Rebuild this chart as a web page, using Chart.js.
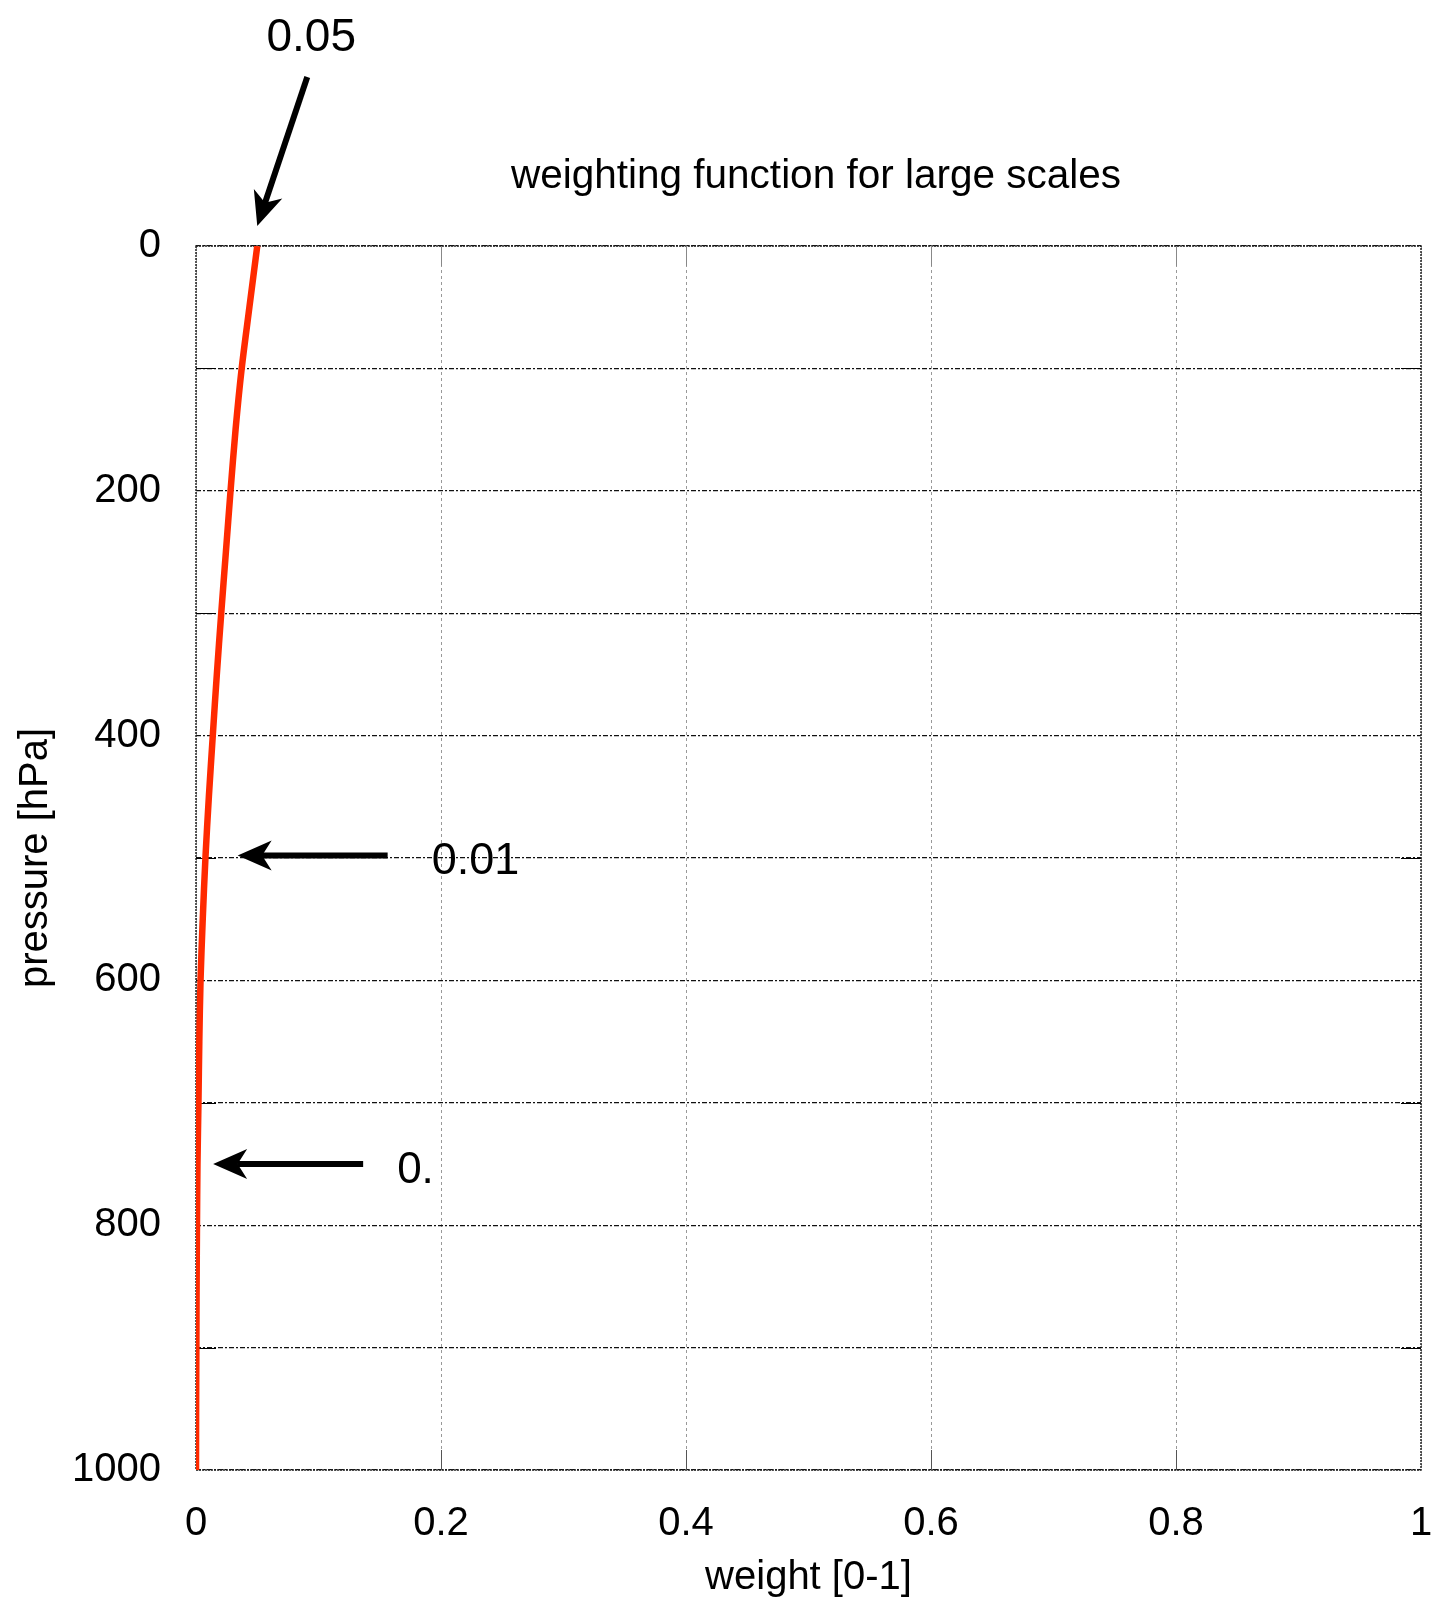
<!DOCTYPE html>
<html>
<head>
<meta charset="utf-8">
<script src="https://cdn.jsdelivr.net/npm/chart.js@4.4.1/dist/chart.umd.min.js"></script>
<style>
  html, body { margin: 0; padding: 0; background: #fff; }
  #wrap { width: 1433px; height: 1606px; }
</style>
</head>
<body>
<div id="wrap"><canvas id="c" width="1433" height="1606"></canvas></div>
<script>
// values
const pressure = [0, 50, 100, 150, 200, 250, 300, 350, 400, 450, 500, 550, 600, 650, 700, 750, 800, 850, 900, 950, 1000];
const weight = [0.0500, 0.0436, 0.0373, 0.0323, 0.0282, 0.0244, 0.0206, 0.0170, 0.0137, 0.0105, 0.0077, 0.0055, 0.0037, 0.0027, 0.0020, 0.0012, 0.0008, 0.0005, 0.0003, 0.0001, 0.0000];
const xTicks = [0, 0.2, 0.4, 0.6, 0.8, 1];
const yTicks = [0, 100, 200, 300, 400, 500, 600, 700, 800, 900, 1000];
const yLabelled = [0, 200, 400, 600, 800, 1000];
const chartTitle = 'weighting function for large scales';
const xTitle = 'weight [0-1]';
const yTitle = 'pressure [hPa]';

// arrows: what they point at, in data units
const noteText = ['0.05', '0.01', '0.'];
const noteX = [0.05, 0.034, 0.014];
const noteY = [0, 498, 750];

const FONT = '"Liberation Sans", Arial, Helvetica, sans-serif';

// pixel offsets of arrows and labels from the point they mark
const noteLook = [
  { tip: [0, -20], tail: [50, -169], label: [54, -195], align: 'center', size: 46 },
  { tip: [0, 0], tail: [150, 0], label: [194, 18], align: 'left', size: 45 },
  { tip: [0, 0], tail: [150, 0], label: [184, 19], align: 'left', size: 44 }
];

function arrow(ctx, x1, y1, x2, y2) {
  // tail (x1,y1) -> tip (x2,y2)
  const dx = x1 - x2, dy = y1 - y2;
  const len = Math.hypot(dx, dy);
  const ux = dx / len, uy = dy / len;
  const nx = -uy, ny = ux;
  const L = 34, W = 15;
  ctx.save();
  ctx.strokeStyle = '#000';
  ctx.fillStyle = '#000';
  ctx.lineWidth = 6;
  ctx.lineCap = 'butt';
  ctx.beginPath();
  ctx.moveTo(x1, y1);
  ctx.lineTo(x2 + ux * 24, y2 + uy * 24);
  ctx.stroke();
  ctx.beginPath();
  ctx.moveTo(x2, y2);
  ctx.lineTo(x2 + ux * L + nx * W, y2 + uy * L + ny * W);
  ctx.lineTo(x2 + ux * L * 0.72, y2 + uy * L * 0.72);
  ctx.lineTo(x2 + ux * L - nx * W, y2 + uy * L - ny * W);
  ctx.closePath();
  ctx.fill();
  ctx.restore();
}

const framePlugin = {
  id: 'frame',
  beforeDatasetsDraw(chart) {
    const { ctx, chartArea: a, scales: { x, y } } = chart;
    ctx.save();
    ctx.setLineDash([2, 1]);
    ctx.strokeStyle = '#222';
    ctx.lineWidth = 1.5;
    ctx.strokeRect(a.left, a.top, a.right - a.left, a.bottom - a.top);
    ctx.setLineDash([]);
    ctx.lineWidth = 1;
    ctx.strokeStyle = '#000';
    yTicks.forEach(v => {
      if (yLabelled.includes(v)) return;
      const py = Math.round(y.getPixelForValue(v)) + 0.5;
      ctx.beginPath();
      ctx.moveTo(a.left, py); ctx.lineTo(a.left + 20, py);
      ctx.moveTo(a.right - 20, py); ctx.lineTo(a.right, py);
      ctx.stroke();
    });
    xTicks.slice(1, -1).forEach(v => {
      const px = Math.round(x.getPixelForValue(v)) + 0.5;
      ctx.strokeStyle = '#555';
      ctx.beginPath();
      ctx.moveTo(px, a.bottom); ctx.lineTo(px, a.bottom - 20);
      ctx.stroke();
      ctx.strokeStyle = '#888';
      ctx.beginPath();
      ctx.moveTo(px, a.top); ctx.lineTo(px, a.top + 20);
      ctx.stroke();
    });
    ctx.restore();
  },
  afterDraw(chart) {
    const { ctx, scales: { x, y } } = chart;
    ctx.save();
    ctx.fillStyle = '#000';
    ctx.textBaseline = 'alphabetic';
    ctx.textAlign = 'center';
    ctx.font = '40.5px ' + FONT;
    ctx.fillText(chartTitle, 816, 188);
    noteText.forEach((t, i) => {
      const s = noteLook[i];
      const px = x.getPixelForValue(noteX[i]);
      const py = y.getPixelForValue(noteY[i]);
      const tx = px + s.tip[0], ty = py + s.tip[1];
      arrow(ctx, px + s.tail[0], py + s.tail[1], tx, ty);
      ctx.font = s.size + 'px ' + FONT;
      ctx.textAlign = s.align;
      ctx.fillText(t, px + s.label[0], py + s.label[1]);
    });
    ctx.restore();
  }
};

new Chart(document.getElementById('c'), {
  type: 'line',
  data: {
    datasets: [{
      data: pressure.map((p, i) => ({ x: weight[i], y: p })),
      borderColor: '#ff2a00',
      borderWidth: 6.5,
      pointRadius: 0,
      tension: 0.3,
      fill: false
    }]
  },
  options: {
    responsive: false,
    animation: false,
    layout: { padding: { top: 246, right: 12, left: 0, bottom: 0 } },
    plugins: {
      legend: { display: false },
      tooltip: { enabled: false },
      title: { display: false }
    },
    scales: {
      x: {
        type: 'linear',
        min: 0,
        max: 1,
        afterBuildTicks: s => { s.ticks = xTicks.map(v => ({ value: v })); },
        afterFit: s => { s.height = 136; s.paddingLeft = 0; s.paddingRight = 0; },
        ticks: {
          padding: 30,
          color: '#000',
          font: { family: FONT, size: 40 },
          callback: v => String(Number(v.toFixed(1)))
        },
        grid: { color: '#999', lineWidth: 1, drawTicks: false },
        border: { display: false, dash: [3, 3] },
        title: {
          display: true,
          text: xTitle,
          color: '#000',
          font: { family: FONT, size: 40 },
          padding: { top: 0, bottom: 4 }
        }
      },
      y: {
        type: 'linear',
        reverse: true,
        min: 0,
        max: 1000,
        afterBuildTicks: s => { s.ticks = yTicks.map(v => ({ value: v })); },
        afterFit: s => { s.width = 196; s.paddingTop = 0; s.paddingBottom = 0; },
        ticks: {
          padding: 35,
          color: '#000',
          font: { family: FONT, size: 40 },
          callback: v => yLabelled.includes(v) ? String(v) : ''
        },
        grid: { color: '#111', lineWidth: 1.2, drawTicks: false },
        border: { display: false, dash: [5, 2, 2, 2] },
        title: {
          display: true,
          text: yTitle,
          color: '#000',
          font: { family: FONT, size: 40 },
          padding: { top: 12, bottom: 0 }
        }
      }
    }
  },
  plugins: [framePlugin]
});
</script>
</body>
</html>
